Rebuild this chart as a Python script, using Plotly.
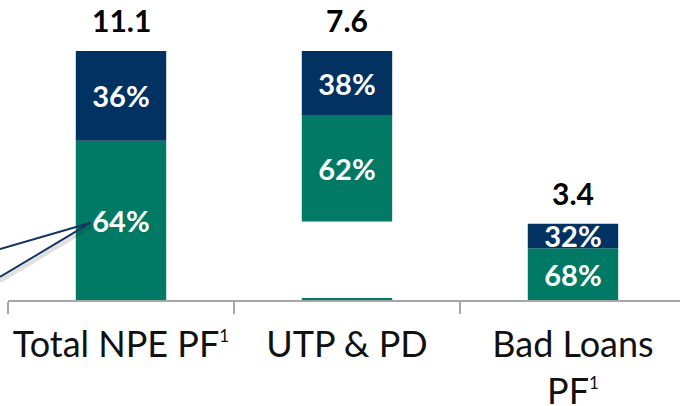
import plotly.graph_objects as go

# Categories and values (EUR bn)
SUP1 = "<sup><span style='font-size:17px'>1</span></sup>"
categories = ["Total NPE PF" + SUP1, "UTP & PD", "Bad Loans<br>PF" + SUP1]
totals = [11.1, 7.6, 3.4]
share_green = [64, 62, 68]   # % of each bar, lower segment
share_navy = [36, 38, 32]    # % of each bar, upper segment
stub = [0, 0.09, 0]          # thin marker at the base of the floating bar

NAVY = "#023262"
GREEN = "#007A64"
FONT = "Lato"

# waterfall: middle bar floats from (total - UTP) up to total
bases = [0, totals[0] - totals[1], 0]
green_vals = [t * s / 100 for t, s in zip(totals, share_green)]
navy_vals = [t * s / 100 for t, s in zip(totals, share_navy)]
navy_bases = [b + g for b, g in zip(bases, green_vals)]
tops = [b + t for b, t in zip(bases, totals)]

fig = go.Figure()

fig.add_bar(x=categories, y=stub, marker_color=GREEN, width=0.4,
            marker_line_width=0, hoverinfo="skip")

seg_font = dict(family=FONT, size=29, color="white", weight="bold")
fig.add_bar(
    x=categories, y=green_vals, base=bases, width=0.4,
    marker_color=GREEN, marker_line_width=0,
    text=[f"{s}%" for s in share_green], textposition="inside",
    insidetextanchor="middle", constraintext="none", textangle=0,
    textfont=seg_font,
)
fig.add_bar(
    x=categories, y=navy_vals, base=navy_bases, width=0.4,
    marker_color=NAVY, marker_line_width=0,
    text=[f"{s}%" for s in share_navy], textposition="inside",
    insidetextanchor="middle", constraintext="none", textangle=0,
    textfont=seg_font,
)

# totals above each bar
for c, top, t in zip(categories, tops, totals):
    fig.add_annotation(
        x=c, y=top, text=f"{t:.1f}", showarrow=False,
        yanchor="bottom", yshift=11,
        font=dict(family=FONT, size=30, color="black", weight="bold"),
    )

# callout pointer coming in from the left
W_PLOT, H_PLOT, L_OFF = 672, 300, 8
def px(xp, yp):
    return (xp - L_OFF) / W_PLOT, 1 - yp / H_PLOT

tip = px(90.7, 222.7)
up = px(0, 249)
lo = px(0, 277)
lo_sh = px(0, 281)
tip_sh = px(92, 226)
fig.add_shape(type="line", xref="paper", yref="paper",
              x0=lo_sh[0], y0=lo_sh[1], x1=tip_sh[0], y1=tip_sh[1],
              line=dict(color="rgba(0,0,0,0.12)", width=4), layer="above")
for p in (up, lo):
    fig.add_shape(type="line", xref="paper", yref="paper",
                  x0=p[0], y0=p[1], x1=tip[0], y1=tip[1],
                  line=dict(color="#15355F", width=2), layer="above")

fig.update_layout(
    width=680, height=406,
    margin=dict(l=8, r=0, t=0, b=106, autoexpand=False),
    barmode="overlay",
    showlegend=False,
    plot_bgcolor="white", paper_bgcolor="white",
    bargap=0.6,
)
fig.update_xaxes(
    type="category", range=[-0.5, 2.4735],
    showline=True, linecolor="#A6A6A6", linewidth=2,
    ticks="outside", tickson="boundaries", ticklen=12, tickwidth=2,
    tickcolor="#A6A6A6", showgrid=False, zeroline=False,
    tickfont=dict(family=FONT, size=36, color="#111111"),
    ticklabelstandoff=12, tickangle=0, automargin=False,
)
fig.update_yaxes(visible=False, range=[0, 13.375], automargin=False)

fig.write_html("out.html")
